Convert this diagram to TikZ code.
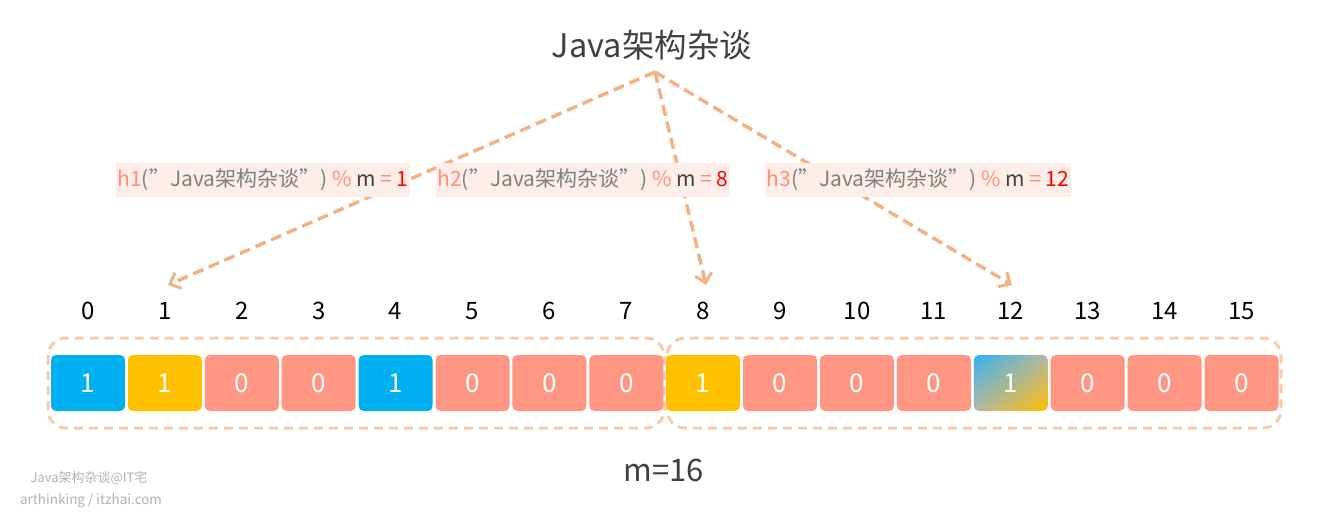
\documentclass[tikz,border=0pt]{standalone}
\usepackage{fontspec}
\setmainfont{Noto Sans CJK SC}
\usetikzlibrary{arrows.meta,shadings}
\definecolor{cblue}{HTML}{00B0F0}
\definecolor{cyellow}{HTML}{FFC000}
\definecolor{csalmon}{HTML}{FF9583}
\definecolor{cmid}{HTML}{B8B5A6}
\definecolor{cblue2}{HTML}{30B4EC}
\definecolor{arrowc}{HTML}{F4B183}
\definecolor{framec}{HTML}{F8CBAD}
\definecolor{labbg}{HTML}{FDEEE9}
\definecolor{hsal}{HTML}{FF8F7A}
\definecolor{tgray}{HTML}{7F7F7F}
\definecolor{tdark}{HTML}{404040}
\definecolor{wm}{HTML}{B8B0A8}
\tikzset{
  cell/.style={minimum width=74pt, minimum height=56pt, rounded corners=5pt, inner sep=0pt, text=white, font=\fontsize{26}{30}\selectfont},
  idx/.style={inner sep=0pt, font=\fontsize{24}{28}\selectfont, text=black},
  hasharrow/.style={draw=arrowc, line width=3.5pt, dash pattern=on 11pt off 6pt, -{Straight Barb[length=9pt, width=17pt, line width=3pt]}},
  frame/.style={draw=framec, line width=3pt, dash pattern=on 9pt off 6pt, rounded corners=18pt},
  lab/.style={fill=labbg, inner xsep=2pt, minimum height=34pt, font=\fontsize{21}{25}\selectfont, text=tgray},
}
\begin{document}
\begin{tikzpicture}[x=1pt, y=-1pt]
\path[fill=white, use as bounding box] (0,0) rectangle (1330,514);
\node[inner sep=0pt, text=tdark, font=\fontsize{32.5}{38}\selectfont] (title) at (652,45) {Java架构杂谈};
\coordinate (src) at (655,72);
% frames
\draw[frame] (48,338) rectangle (664,428);
\draw[frame] (667,338) rectangle (1281,428);
% cells
\foreach \i/\c/\v in {0/cblue/1,1/cyellow/1,2/csalmon/0,3/csalmon/0,4/cblue/1,5/csalmon/0,6/csalmon/0,7/csalmon/0,8/cyellow/1,9/csalmon/0,10/csalmon/0,11/csalmon/0,13/csalmon/0,14/csalmon/0,15/csalmon/0}{
  \node[cell, fill=\c] (c\i) at ({88+\i*76.9},383) {\v};
}
\node[cell, upper left=cblue2, lower right=cyellow, upper right=cmid, lower left=cmid] (c12) at ({88+12*76.9},383) {1};
% index labels
\foreach \i in {0,...,15}{
  \node[idx] (i\i) at ({88+\i*76.9},311) {\i};
}
% arrows
\coordinate (t1) at (168,285);
\coordinate (t8) at (706,285);
\coordinate (t12) at (1012,285);
\draw[hasharrow] (src) -- (t1);
\draw[hasharrow] (src) -- (t8);
\draw[hasharrow] (src) -- (t12);
% labels
\node[lab] (l1) at (263,180) {\textcolor{hsal}{h1}(”Java架构杂谈”) \textcolor{hsal}{\%} \textcolor{tdark}{m} \textcolor{hsal}{=} \textcolor{red}{1}};
\node[lab] (l2) at (583,180) {\textcolor{hsal}{h2}(”Java架构杂谈”) \textcolor{hsal}{\%} \textcolor{tdark}{m} \textcolor{hsal}{=} \textcolor{red}{8}};
\node[lab] (l3) at (918,180) {\textcolor{hsal}{h3}(”Java架构杂谈”) \textcolor{hsal}{\%} \textcolor{tdark}{m} \textcolor{hsal}{=} \textcolor{red}{12}};
% m=16
\node[inner sep=0pt, text=tdark, font=\fontsize{31}{36}\selectfont] (m) at (664,470) {m=16};
% watermark
\node[inner sep=0pt, text=wm, font=\fontsize{13}{15}\selectfont] (w1) at (89,478) {Java架构杂谈@IT宅};
\node[inner sep=0pt, text=wm, font=\fontsize{13.5}{16}\selectfont] (w2) at (91,501) {arthinking / itzhai.com};
\end{tikzpicture}
\end{document}
